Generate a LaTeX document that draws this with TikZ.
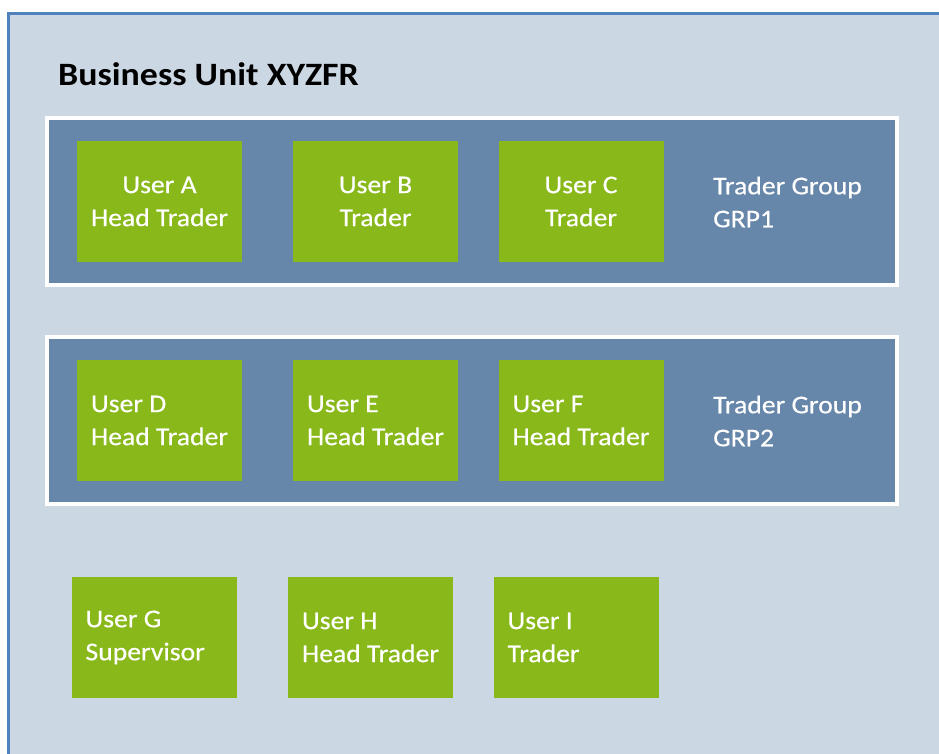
\documentclass[tikz,border=0pt]{standalone}
\usepackage{fontspec}
\setmainfont{Carlito}
\newfontfamily\bodyfont[FakeStretch=1.085, FakeBold=0.5]{Carlito}
\newfontfamily\titlefont[FakeStretch=1.1]{Carlito}
\definecolor{bgfill}{HTML}{CCD7E4}
\definecolor{bgline}{HTML}{4F81BD}
\definecolor{grpfill}{HTML}{6686AA}
\definecolor{usergreen}{HTML}{88B819}
\tikzset{
  bodytext/.style={font=\bodyfont\fontsize{25.5}{33}\selectfont},
  grpbox/.style={rectangle, draw=white, line width=4pt, fill=grpfill, inner sep=0pt},
  userc/.style={rectangle, fill=usergreen, text=white, minimum width=165pt, minimum height=121pt,
    inner sep=0pt, align=center, bodytext},
  userl/.style={rectangle, fill=usergreen, text=white, minimum width=165pt, minimum height=121pt,
    text width=137pt, inner xsep=14pt, inner ysep=0pt, align=flush left, bodytext},
  grplabel/.style={anchor=west, text=white, inner sep=0pt, align=left, bodytext},
}
\begin{document}
\begin{tikzpicture}[x=1pt,y=-1pt]
\useasboundingbox (0,0) rectangle (939,754);
\clip (0,0) rectangle (939,754);
\fill[white] (0,0) rectangle (939,754);
\draw[bgline, line width=3pt, fill=bgfill] (8.5,13.5) rectangle (980,800);
\node[anchor=base west, inner sep=0pt, font=\titlefont\fontsize{32.6}{40}\selectfont\bfseries] (title) at (58,86) {Business Unit XYZFR};
% group 1
\node[grpbox, minimum width=850pt, minimum height=167pt] (grp1) at (472,201.5) {};
\node[userc] (ua) at (159.5,201.5) {User A\\Head Trader};
\node[userc] (ub) at (375.5,201.5) {User B\\Trader};
\node[userc] (uc) at (581,201.5) {User C\\Trader};
\node[grplabel] (g1) at (713,202) {Trader Group\\GRP1};
% group 2
\node[grpbox, minimum width=850pt, minimum height=167pt] (grp2) at (472,420.5) {};
\node[userl] (ud) at (159.5,420.5) {User D\\Head~Trader};
\node[userl] (ue) at (375.5,420.5) {User E\\Head~Trader};
\node[userl] (uf) at (581,420.5) {User F\\Head~Trader};
\node[grplabel] (g2) at (713,421) {Trader Group\\GRP2};
% ungrouped
\node[userl] (ug) at (154,637.5) {User G\\Supervisor};
\node[userl] (uh) at (370.5,637.5) {User H\\Head~Trader};
\node[userl] (ui) at (576,637.5) {User I\\Trader};
\end{tikzpicture}
\end{document}
